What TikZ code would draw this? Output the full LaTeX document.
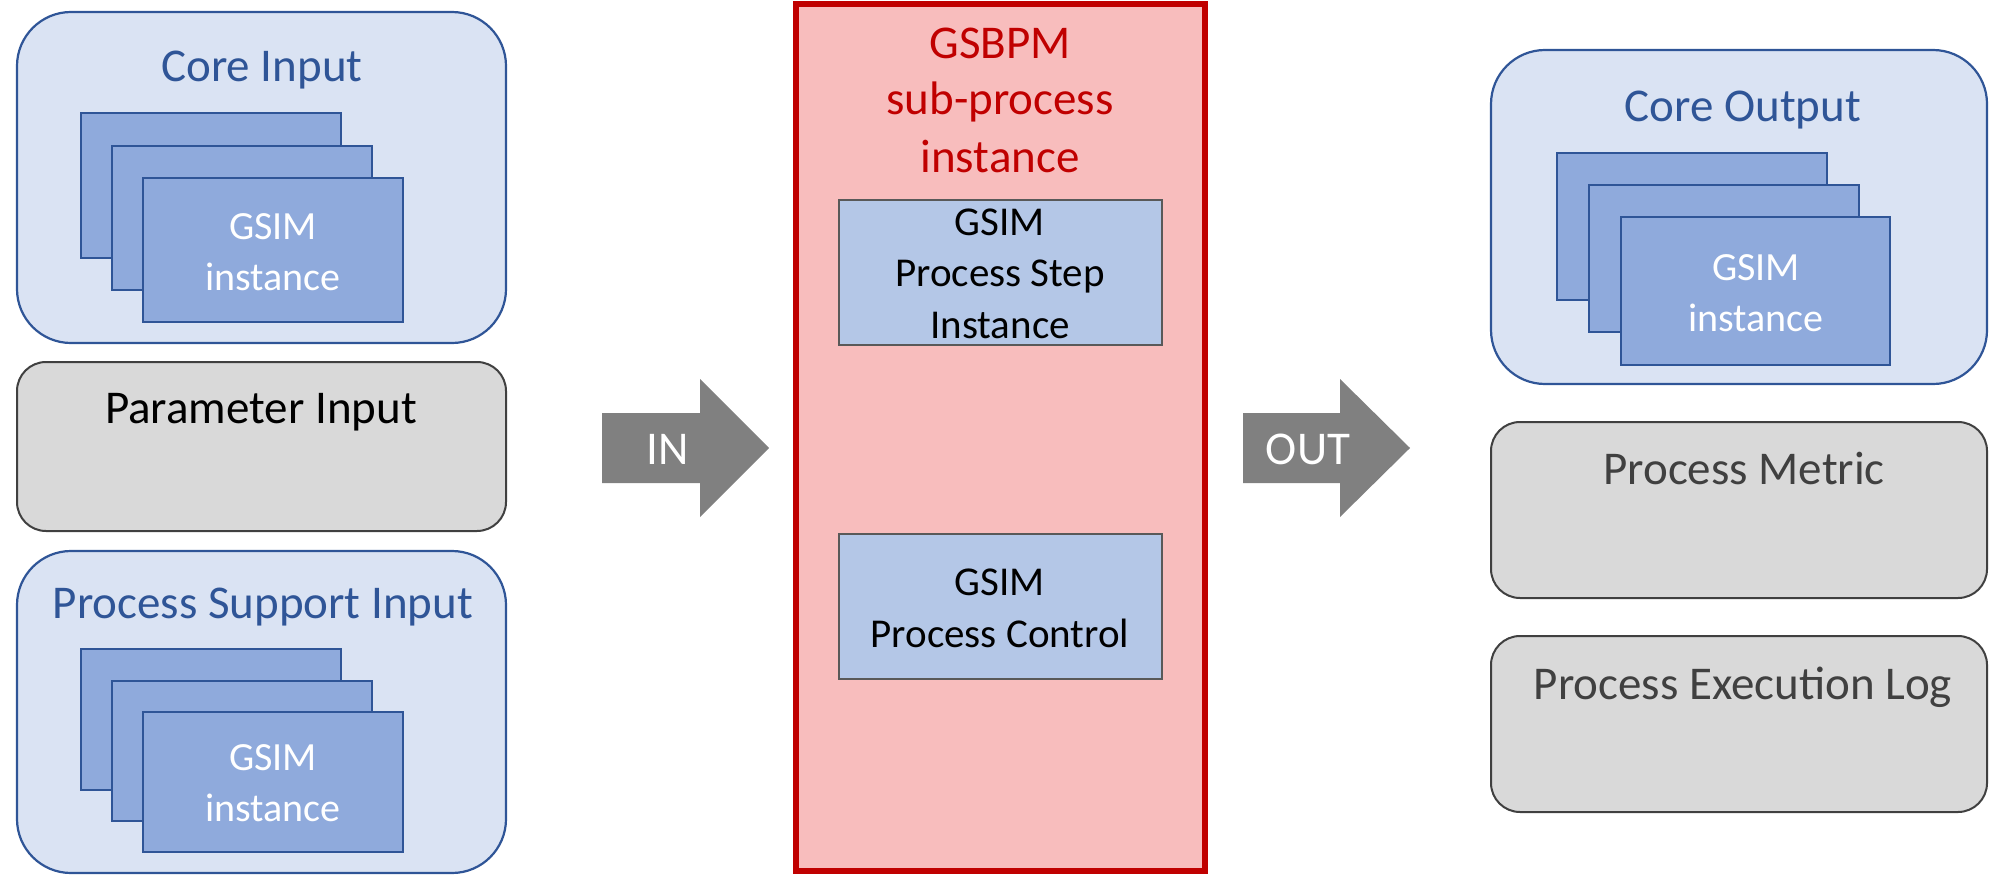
\documentclass[tikz,border=0pt]{standalone}
\usepackage{fontspec}
\setmainfont{Carlito}
\usetikzlibrary{fit}

\definecolor{dkblue}{HTML}{2F5597}
\definecolor{ltblue}{HTML}{DAE3F3}
\definecolor{midblue}{HTML}{8FAADC}
\definecolor{boxgray}{HTML}{D9D9D9}
\definecolor{dkgray}{HTML}{404040}
\definecolor{pinkfill}{HTML}{F8BDBD}
\definecolor{dkred}{HTML}{C00000}
\definecolor{stepblue}{HTML}{B4C7E7}
\definecolor{stepgray}{HTML}{595959}
\definecolor{arrowgray}{HTML}{808080}

\tikzset{
  container/.style={draw=dkblue, fill=ltblue, line width=1.1pt, rounded corners=27pt, inner sep=0pt},
  paper/.style={draw=dkblue, fill=midblue, line width=1.2pt, inner sep=0pt},
  graybox/.style={draw=dkgray, fill=boxgray, line width=1pt, rounded corners=14.5pt, inner sep=0pt},
  framebox/.style={draw=dkred, fill=pinkfill, line width=3pt, inner sep=0pt},
  stepbox/.style={draw=stepgray, fill=stepblue, line width=1.2pt, inner sep=0pt},
  blockarrow/.style={fill=arrowgray},
  % multi-line labels are placed by the baseline of their last line
  biglabel/.style={font=\fontsize{23.5}{28.5}\selectfont, anchor=base, inner sep=0pt, align=center},
  steplabel/.style={font=\fontsize{20.5}{25.75}\selectfont, anchor=base, inner sep=0pt, align=center, text=black},
  paperlabel/.style={font=\fontsize{20}{25.5}\selectfont, anchor=base, inner sep=0pt, align=center, text=white},
}

\begin{document}
\begin{tikzpicture}[x=0.5pt, y=-0.5pt]
  \useasboundingbox (0,0) rectangle (1990,888);

  % ---- inputs (left column) ----
  \node[container, fit={(17,12) (506,343)}] (coreinput) {};
  \node[biglabel, text=dkblue] (coreinputlbl) at (262,82) {Core Input};
  \node[paper, fit={(81,113) (341,258)}] (cipaper1) {};
  \node[paper, fit={(112,146) (372,290)}] (cipaper2) {};
  \node[paper, fit={(143,178) (403,322)}] (cipaper3) {};
  \node[paperlabel] (cipaperlbl) at (273,290) {GSIM\\instance};

  \node[graybox, fit={(17,362) (506,531)}] (paraminput) {};
  \node[biglabel, text=black] (paraminputlbl) at (261,423) {Parameter Input};

  \node[container, fit={(17,551) (506,873)}] (supportinput) {};
  \node[biglabel, text=dkblue] (supportinputlbl) at (263,618) {Process Support Input};
  \node[paper, fit={(81,649) (341,790)}] (sipaper1) {};
  \node[paper, fit={(112,681) (372,821)}] (sipaper2) {};
  \node[paper, fit={(143,712) (403,852)}] (sipaper3) {};
  \node[paperlabel] (sipaperlbl) at (273,821) {GSIM\\instance};

  % ---- IN arrow ----
  \coordinate (intail) at (602,448);
  \coordinate (intip) at (769,448);
  \fill[blockarrow] (602,413) -- (700,413) -- (700,379) -- (intip) -- (700,517) -- (700,483) -- (602,483) -- cycle;
  \node[biglabel, text=white] (inlbl) at (668,464) {IN};

  % ---- GSBPM sub-process ----
  \node[framebox, fit={(796,4.5) (1205,870.5)}] (subprocess) {};
  \node[biglabel, text=dkred] (subprocesslbl) at (1000,172) {GSBPM\\sub-process\\instance};

  \node[stepbox, fit={(839,200) (1162,345)}] (processstep) {};
  \node[steplabel] (processsteplbl) at (1000,338) {GSIM\\Process Step\\Instance};

  \node[stepbox, fit={(839,534) (1162,679)}] (processcontrol) {};
  \node[steplabel] (processcontrollbl) at (1000,647) {GSIM\\Process Control};

  % ---- OUT arrow ----
  \coordinate (outtail) at (1243,448);
  \coordinate (outtip) at (1410,448);
  \fill[blockarrow] (1243,413) -- (1340,413) -- (1340,379) -- (outtip) -- (1340,517) -- (1340,483) -- (1243,483) -- cycle;
  \node[biglabel, text=white] (outlbl) at (1308,464) {OUT};

  % ---- outputs (right column) ----
  \node[container, fit={(1491,50) (1987,384)}] (coreoutput) {};
  \node[biglabel, text=dkblue] (coreoutputlbl) at (1743,121) {Core Output};
  \node[paper, fit={(1557,153) (1827,300)}] (copaper1) {};
  \node[paper, fit={(1589,185) (1859,332)}] (copaper2) {};
  \node[paper, fit={(1621,217) (1890,365)}] (copaper3) {};
  \node[paperlabel] (copaperlbl) at (1756,331) {GSIM\\instance};

  \node[graybox, fit={(1491,422) (1987,598)}] (metric) {};
  \node[biglabel, text=dkgray] (metriclbl) at (1744,484) {Process Metric};

  \node[graybox, fit={(1491,636) (1987,812)}] (execlog) {};
  \node[biglabel, text=dkgray] (execloglbl) at (1743,699) {Process Execution Log};
\end{tikzpicture}
\end{document}
